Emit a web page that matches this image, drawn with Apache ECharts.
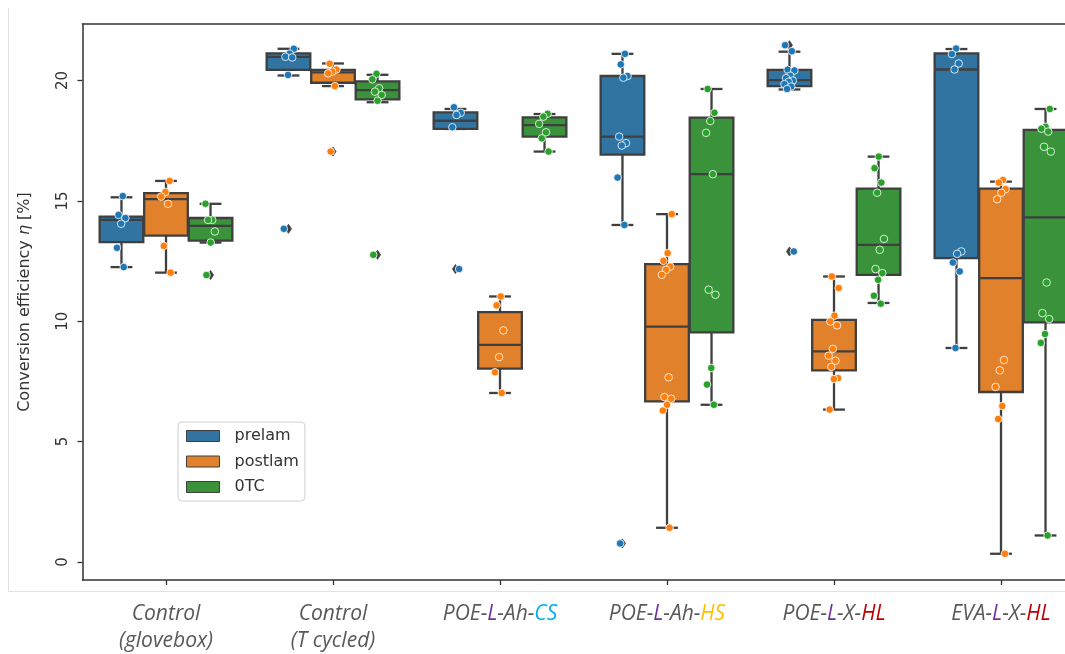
<!DOCTYPE html>
<html><head><meta charset="utf-8">
<script src="https://cdn.jsdelivr.net/npm/echarts@6/dist/echarts.min.js"></script>
<style>html,body{margin:0;padding:0;background:#fff}#c{width:1065px;height:654px}</style>
</head><body><div id="c"></div>
<script>
// ---------- DATA ----------
const categories = ['Control\n(glovebox)', 'Control\n(T cycled)', 'POE-L-Ah-CS', 'POE-L-Ah-HS', 'POE-L-X-HL', 'EVA-L-X-HL'];
const hueNames = ['prelam', 'postlam', '0TC'];
const yTicks = [0, 5, 10, 15, 20];

// box stats per category: [lowWhisker, Q1, median, Q3, highWhisker]
const prelamBox = [
  [12.25, 13.29, 14.21, 14.35, 15.15],
  [20.21, 20.44, 20.98, 21.13, 21.32],
  [17.99, 17.99, 18.33, 18.68, 18.82],
  [14.0, 16.92, 17.67, 20.19, 21.11],
  [19.63, 19.77, 20.02, 20.44, 21.2],
  [8.89, 12.62, 20.46, 21.13, 21.31]
];
const postlamBox = [
  [12.02, 13.56, 15.07, 15.32, 15.83],
  [19.77, 19.91, 20.34, 20.44, 20.71],
  [7.02, 8.03, 9.02, 10.38, 11.03],
  [1.42, 6.67, 9.78, 12.37, 14.45],
  [6.33, 7.96, 8.75, 10.06, 11.86],
  [0.34, 7.06, 11.79, 15.51, 15.8]
];
const otcBox = [
  [13.27, 13.35, 13.96, 14.29, 14.88],
  [19.1, 19.22, 19.6, 19.97, 20.24],
  [17.05, 17.67, 18.15, 18.47, 18.61],
  [6.53, 9.54, 16.11, 18.46, 19.65],
  [10.76, 11.93, 13.17, 15.51, 16.84],
  [1.1, 9.95, 14.32, 17.95, 18.82]
];

// individual measurements per category
const prelamPoints = [
  [15.2, 14.42, 14.29, 14.05, 13.05, 12.25],
  [21.32, 21.12, 20.99, 20.96, 20.23, 13.84],
  [18.89, 18.66, 18.57, 18.06, 12.17],
  [21.11, 20.67, 20.19, 20.12, 17.67, 17.4, 17.3, 15.97, 14.0, 0.77],
  [21.47, 21.22, 20.45, 20.42, 20.2, 20.1, 20.0, 19.95, 19.85, 19.75, 19.65, 12.9],
  [21.33, 21.1, 20.71, 20.46, 12.9, 12.8, 12.44, 12.07, 8.89]
];
const postlamPoints = [
  [15.83, 15.37, 15.18, 14.88, 13.13, 12.02],
  [20.7, 20.46, 20.37, 20.3, 19.77, 17.05],
  [11.03, 10.66, 9.62, 8.51, 7.88, 7.02],
  [14.45, 12.83, 12.51, 12.27, 12.14, 11.93, 7.67, 6.85, 6.78, 6.53, 6.29, 1.42],
  [11.86, 11.38, 10.23, 9.99, 9.83, 8.85, 8.57, 8.36, 8.1, 7.64, 7.6, 6.33],
  [15.87, 15.76, 15.49, 15.34, 15.07, 8.39, 7.96, 7.27, 6.48, 5.94, 0.34]
];
const otcPoints = [
  [14.88, 14.21, 14.21, 13.73, 13.27, 11.92],
  [20.28, 20.05, 19.68, 19.54, 19.4, 19.16, 12.76],
  [18.62, 18.5, 18.2, 17.85, 17.6, 17.05],
  [19.65, 18.66, 18.32, 17.83, 16.11, 11.31, 11.1, 8.06, 7.37, 6.53],
  [16.84, 16.36, 15.76, 15.34, 13.42, 12.97, 12.17, 12.0, 11.72, 11.06, 10.73],
  [18.82, 18.08, 18.0, 17.88, 17.25, 17.05, 11.61, 10.34, 10.09, 9.47, 9.1, 1.1]
];

// outliers (fliers) per category
const prelamFliers = [[], [13.84], [12.17], [0.77], [21.47, 12.9], []];
const postlamFliers = [[], [17.05], [], [], [], []];
const otcFliers = [[11.92], [12.76], [], [], [], []];

// ---------- STYLE ----------
const boxColors = ['#3274a1', '#e1812c', '#3a923a'];
const pointColors = ['#1f77b4', '#ff7f0e', '#2ca02c'];
const LINE = '#3f3f3f';
const AXIS = '#333333';

const boxes = [prelamBox, postlamBox, otcBox];
const points = [prelamPoints, postlamPoints, otcPoints];
const fliers = [prelamFliers, postlamFliers, otcFliers];

function hueCenter(api, cat, hue) {
  const band = api.size([1, 0])[0];
  const w = band * 0.8 / 3;
  return { cx: api.coord([cat, 0])[0] + (hue - 1) * w, bw: w * 0.98 };
}

function boxRender(hue) {
  return function (params, api) {
    const cat = api.value(0);
    const { cx, bw } = hueCenter(api, cat, hue);
    const y = i => api.coord([cat, api.value(i)])[1];
    const yLow = y(1), yQ1 = y(2), yMed = y(3), yQ3 = y(4), yHigh = y(5);
    const ls = { stroke: LINE, lineWidth: 2.3 };
    return {
      type: 'group',
      children: [
        { type: 'line', shape: { x1: cx, y1: yQ3, x2: cx, y2: yHigh }, style: ls },
        { type: 'line', shape: { x1: cx, y1: yQ1, x2: cx, y2: yLow }, style: ls },
        { type: 'line', shape: { x1: cx - bw / 4, y1: yHigh, x2: cx + bw / 4, y2: yHigh }, style: ls },
        { type: 'line', shape: { x1: cx - bw / 4, y1: yLow, x2: cx + bw / 4, y2: yLow }, style: ls },
        { type: 'rect', shape: { x: cx - bw / 2, y: yQ3, width: bw, height: yQ1 - yQ3 },
          style: { fill: boxColors[hue], stroke: LINE, lineWidth: 2.3 } },
        { type: 'line', shape: { x1: cx - bw / 2, y1: yMed, x2: cx + bw / 2, y2: yMed }, style: ls }
      ]
    };
  };
}

function flierRender(hue) {
  return function (params, api) {
    const cat = api.value(0);
    const { cx } = hueCenter(api, cat, hue);
    const yy = api.coord([cat, api.value(1)])[1];
    return { type: 'polygon', shape: { points: [[cx, yy - 4.5], [cx + 3, yy], [cx, yy + 4.5], [cx - 3, yy]] },
      style: { fill: LINE, stroke: LINE, lineWidth: 0.8 } };
  };
}

function pointRender(hue) {
  return function (params, api) {
    const cat = api.value(0);
    const k = api.value(2);
    const { cx } = hueCenter(api, cat, hue);
    const jit = (((k + 1) * 0.61803398875 + cat * 0.37 + hue * 0.21) % 1 - 0.5) * 11;
    const yy = api.coord([cat, api.value(1)])[1];
    return { type: 'circle', shape: { cx: cx + jit, cy: yy, r: 3.8 },
      style: { fill: pointColors[hue], stroke: 'rgba(255,255,255,0.8)', lineWidth: 1 } };
  };
}

const series = [];
hueNames.forEach((name, h) => {
  series.push({
    name, type: 'custom', renderItem: boxRender(h), z: 2,
    itemStyle: { color: boxColors[h] },
    encode: { x: 0, y: [1, 2, 3, 4, 5] },
    data: boxes[h].map((b, i) => [i].concat(b))
  });
});
hueNames.forEach((name, h) => {
  const d = [];
  fliers[h].forEach((arr, i) => arr.forEach(v => d.push([i, v])));
  series.push({ name: name + ' outliers', type: 'custom', renderItem: flierRender(h), z: 3,
    encode: { x: 0, y: 1 }, data: d });
});
hueNames.forEach((name, h) => {
  const d = [];
  points[h].forEach((arr, i) => arr.forEach((v, k) => d.push([i, v, k])));
  series.push({ name: name + ' points', type: 'custom', renderItem: pointRender(h), z: 4,
    itemStyle: { color: pointColors[h] },
    encode: { x: 0, y: 1 }, data: d });
});

const highlight = { L: 'l', CS: 'cs', HS: 'hs', HL: 'hl' };
function fmtLabel(v) {
  if (v.indexOf('\n') >= 0) return v.split('\n').map(s => '{g|' + s + '}').join('\n');
  return v.split('-').map(s => highlight[s] ? '{' + highlight[s] + '|' + s + '}' : '{g|' + s + '}').join('{g|-}');
}
const labFont = { fontStyle: 'italic', fontSize: 21, fontFamily: 'Open Sans', lineHeight: 27 };

const chart = echarts.init(document.getElementById('c'));
chart.setOption({
  animation: false,
  backgroundColor: '#fff',
  grid: { left: 82.5, top: 24, width: 1002, height: 556, outerBoundsMode: 'none', containLabel: false },
  legend: {
    data: hueNames, orient: 'vertical', left: 178, top: 422,
    icon: 'rect', itemWidth: 33, itemHeight: 11, itemGap: 9.5,
    padding: [6, 6, 6, 8], backgroundColor: '#fff', borderColor: '#d0d0d0', borderWidth: 1, borderRadius: 4,
    itemStyle: { borderColor: LINE, borderWidth: 1 },
    textStyle: { fontFamily: 'DejaVu Sans', fontSize: 16, color: '#333', padding: [0, 0, 0, 10] }
  },
  xAxis: [{
    type: 'category', data: categories, boundaryGap: true,
    axisLine: { onZero: false, lineStyle: { color: AXIS, width: 1.5 } },
    axisTick: { show: true, alignWithLabel: true, length: 5, lineStyle: { color: AXIS, width: 1.3 } },
    axisLabel: {
      interval: 0, margin: 21, formatter: fmtLabel,
      rich: {
        g: Object.assign({ color: '#595959' }, labFont),
        l: Object.assign({ color: '#7030a0' }, labFont),
        cs: Object.assign({ color: '#00b0f0' }, labFont),
        hs: Object.assign({ color: '#ffc000' }, labFont),
        hl: Object.assign({ color: '#c00000' }, labFont)
      }
    },
    splitLine: { show: false }
  }, {
    type: 'category', data: categories, position: 'top',
    axisLine: { show: true, onZero: false, lineStyle: { color: AXIS, width: 1.5 } },
    axisTick: { show: false }, axisLabel: { show: false }, splitLine: { show: false }
  }],
  yAxis: {
    type: 'value', min: -0.75, max: 22.35,
    axisLine: { show: true, onZero: false, lineStyle: { color: AXIS, width: 1.5 } },
    axisTick: { show: true, length: 5, customValues: yTicks, lineStyle: { color: AXIS, width: 1.3 } },
    axisLabel: { customValues: yTicks, rotate: 90, fontSize: 15, fontFamily: 'DejaVu Sans', color: '#333', margin: 12 },
    splitLine: { show: false },
    name: 'Conversion efficiency {i|η} [%]', nameLocation: 'middle', nameGap: 50,
    nameTextStyle: { fontSize: 16, fontFamily: 'DejaVu Sans', color: '#333',
      rich: { i: { fontStyle: 'italic', fontSize: 16, fontFamily: 'DejaVu Sans', color: '#333' } } }
  },
  graphic: [
    { type: 'line', shape: { x1: 8.5, y1: 8, x2: 8.5, y2: 592 }, style: { stroke: '#e2e2e2', lineWidth: 1 }, silent: true },
    { type: 'line', shape: { x1: 8, y1: 591.5, x2: 1065, y2: 591.5 }, style: { stroke: '#e2e2e2', lineWidth: 1 }, silent: true }
  ],
  series
});
</script>
</body></html>
